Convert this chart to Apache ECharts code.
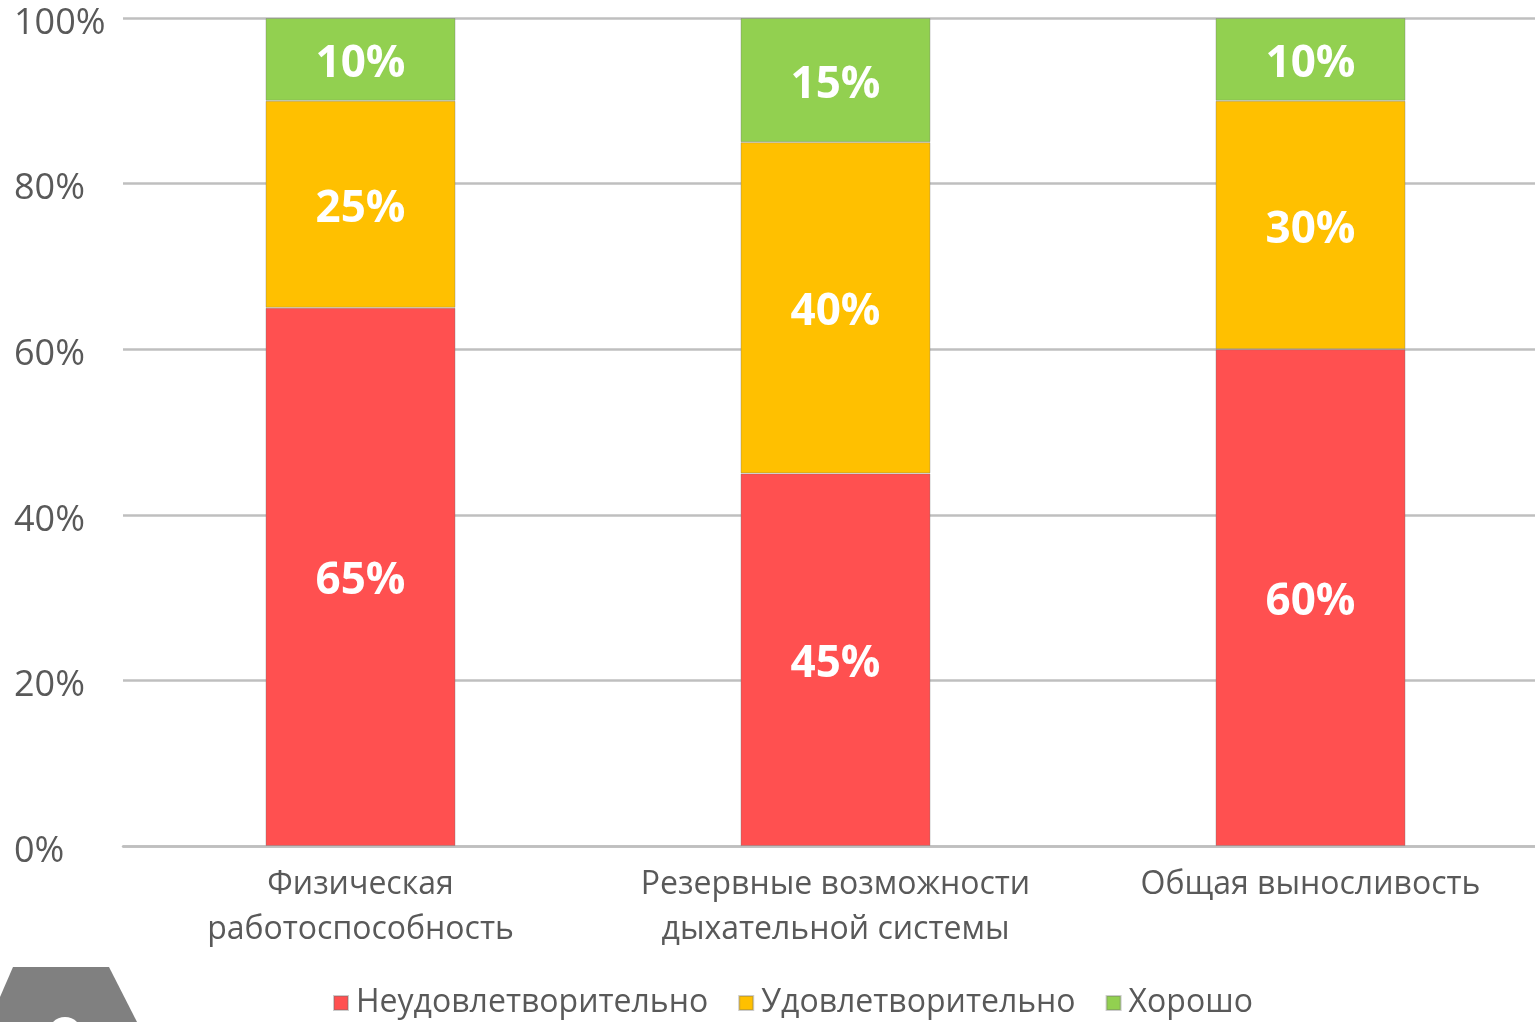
<!DOCTYPE html>
<html lang="ru">
<head>
<meta charset="utf-8">
<title>Уровень физической подготовленности</title>
<script src="https://cdn.jsdelivr.net/npm/echarts@6/dist/echarts.min.js"></script>
<style>
  html, body { margin: 0; padding: 0; background: #ffffff; overflow: hidden; }
  /* the plot runs slightly past the right edge of the slide */
  #chart { width: 1548px; height: 1022px; }
</style>
</head>
<body>
<div id="chart"></div>
<script>
// Categories (axis labels, wrapped onto two lines)
const categories = [
  'Физическая\nработоспособность',
  'Резервные возможности\nдыхательной системы',
  'Общая выносливость'
];

// Share of pupils per rating, percent
const unsatisfactory = [65, 45, 60];
const satisfactory = [25, 40, 30];
const good = [10, 15, 10];

const seriesNames = ['Неудовлетворительно', 'Удовлетворительно', 'Хорошо'];
const seriesColors = ['#FF5050', '#FFC000', '#92D050'];

// Value axis ticks
const yTicks = [0, 20, 40, 60, 80, 100];

const FONT = '"Open Sans", "Noto Sans", sans-serif';
const TEXT_GREY = '#595959';

const chart = echarts.init(document.getElementById('chart'), null, { renderer: 'canvas' });

function barSeries(name, values, color) {
  return {
    name: name,
    type: 'bar',
    stack: 'total',
    data: values,
    barWidth: '40%',
    itemStyle: {
      color: color,
      borderColor: 'rgba(110,110,110,0.35)',
      borderWidth: 1
    },
    label: {
      show: true,
      position: 'inside',
      offset: [0, 5],
      formatter: '{c}%',
      color: '#ffffff',
      fontFamily: FONT,
      fontWeight: 'bold',
      fontSize: 44
    },
    emphasis: { disabled: true }
  };
}

chart.setOption({
  animation: false,
  backgroundColor: '#ffffff',
  grid: {
    left: 123,
    right: 0,
    top: 18,
    bottom: 176,
    containLabel: false
  },
  legend: {
    data: seriesNames,
    bottom: 3,
    left: 333,
    padding: 0,
    icon: 'rect',
    itemWidth: 14,
    itemHeight: 14,
    itemGap: 30,
    textStyle: {
      color: TEXT_GREY,
      fontFamily: FONT,
      fontSize: 32,
      padding: [0, 0, 0, 3]
    }
  },
  xAxis: {
    type: 'category',
    data: categories,
    axisTick: { show: false },
    axisLine: { show: true, lineStyle: { color: '#bfbfbf', width: 2.5 } },
    axisLabel: {
      interval: 0,
      margin: 16,
      color: TEXT_GREY,
      fontFamily: FONT,
      fontSize: 32,
      lineHeight: 45,
      align: 'center'
    }
  },
  yAxis: {
    type: 'value',
    min: yTicks[0],
    max: yTicks[yTicks.length - 1],
    interval: yTicks[1] - yTicks[0],
    axisLine: { show: false },
    axisTick: { show: false },
    splitLine: { lineStyle: { color: '#bfbfbf', width: 2.5 } },
    axisLabel: {
      formatter: '{v|{value}%}',
      align: 'left',
      margin: 109,
      rich: {
        v: {
          color: TEXT_GREY,
          fontFamily: FONT,
          fontSize: 36,
          padding: [11, 0, 0, 0]
        }
      }
    }
  },
  series: [
    barSeries(seriesNames[0], unsatisfactory, seriesColors[0]),
    barSeries(seriesNames[1], satisfactory, seriesColors[1]),
    barSeries(seriesNames[2], good, seriesColors[2])
  ],
  graphic: [
    {
      // slide corner badge
      type: 'polygon',
      silent: true,
      shape: { points: [[13, 967], [109, 967], [137, 1022], [0, 1022], [0, 997]] },
      style: { fill: '#808080' }
    },
    {
      type: 'circle',
      silent: true,
      shape: { cx: 65, cy: 1034, r: 17 },
      style: { fill: '#ffffff' }
    }
  ]
});
</script>
</body>
</html>
